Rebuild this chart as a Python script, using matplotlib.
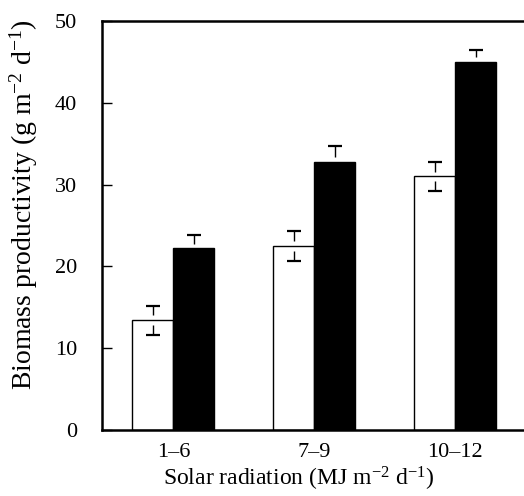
import numpy as np
import matplotlib.pyplot as plt

plt.rcParams['font.family'] = ['Liberation Serif', 'DejaVu Serif']
plt.rcParams['mathtext.fontset'] = 'custom'
plt.rcParams['mathtext.rm'] = 'Liberation Serif'
plt.rcParams['mathtext.it'] = 'Liberation Serif:italic'

# --- data ---
categories = ['1–6', '7–9', '10–12']
open_means = [13.4, 22.5, 31.0]
open_err = [1.8, 1.8, 1.8]
closed_means = [22.2, 32.8, 45.0]
closed_err = [1.7, 1.9, 1.5]

x = np.arange(len(categories))
w = 0.29
gap = 0.6      # gap between bar top and error stub (data units)
cap_w = 0.1

fig = plt.figure(figsize=(5.24, 4.96), dpi=100)
ax = fig.add_axes([0.1947, 0.133, 0.8053, 0.8247])

ax.bar(x - w / 2, open_means, w, color='white', edgecolor='black', linewidth=1.0, zorder=2)
ax.bar(x + w / 2, closed_means, w, color='black', edgecolor='black', linewidth=1.0, zorder=2)


def draw_err(xc, m, e, lower=True):
    # upper half: cap and short stub, detached from bar top
    ax.hlines(m + e, xc - cap_w / 2, xc + cap_w / 2, color='black', lw=1.6, zorder=3)
    ax.vlines(xc, m + gap, m + e, color='black', lw=1.0, zorder=3)
    if lower:
        ax.hlines(m - e, xc - cap_w / 2, xc + cap_w / 2, color='black', lw=1.6, zorder=3)
        ax.vlines(xc, m - e, m - gap, color='black', lw=1.0, zorder=3)


for i in range(len(categories)):
    draw_err(x[i] - w / 2, open_means[i], open_err[i], lower=True)
    draw_err(x[i] + w / 2, closed_means[i], closed_err[i], lower=False)

ax.set_xlim(-0.506, 2.487)
ax.set_ylim(0, 50)
ax.set_yticks([0, 10, 20, 30, 40, 50])
ax.set_xticks(x)
ax.set_xticklabels(categories)

ax.tick_params(axis='y', direction='in', length=7, width=1.0, pad=18, labelsize=16)
ax.tick_params(axis='x', length=0, pad=9, labelsize=16)

for s in ['left', 'bottom', 'top']:
    ax.spines[s].set_linewidth(1.8)
ax.spines['right'].set_visible(False)

ax.set_ylabel(r'Biomass productivity (g m$^{-2}$ d$^{-1}$)', fontsize=20)
ax.yaxis.set_label_coords(-0.148, 0.55)
ax.set_xlabel(r'Solar radiation (MJ m$^{-2}$ d$^{-1}$)', fontsize=17)
ax.xaxis.set_label_coords(0.467, -0.085)

fig.savefig('out.png', dpi=100)
